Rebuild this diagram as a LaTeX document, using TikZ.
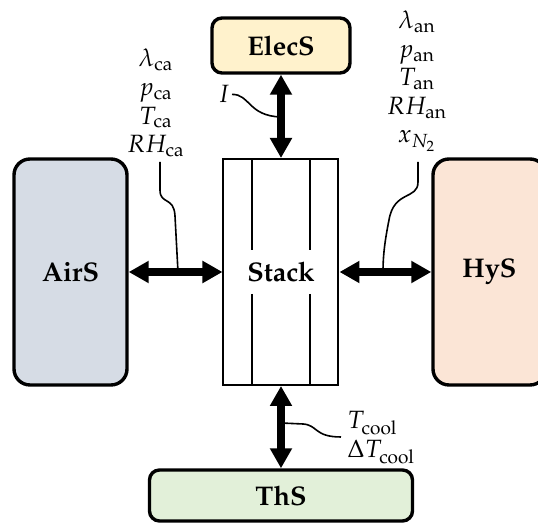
\documentclass[tikz,border=0pt]{standalone}
\usepackage[T1]{fontenc}
\usepackage{mathpazo}
\usetikzlibrary{arrows.meta}
\definecolor{airc}{HTML}{D6DCE5}
\definecolor{hyc}{HTML}{FBE5D6}
\definecolor{elecc}{HTML}{FFF2CC}
\definecolor{thc}{HTML}{E2F0D9}
\begin{document}
\begin{tikzpicture}[x=0.5pt,y=-0.5pt,
  font=\fontsize{12.5}{15}\selectfont,
  sysbox/.style={draw, line width=1.7pt, inner sep=0pt, font=\fontsize{13.5}{16}\selectfont\bfseries},
  tallbox/.style={sysbox, rounded corners=8pt, minimum width=56.5pt, minimum height=113pt},
  widebox/.style={sysbox, rounded corners=5pt},
  stackbox/.style={draw, line width=1pt, inner sep=0pt, minimum width=57.5pt, minimum height=113pt, font=\fontsize{13.5}{16}\selectfont\bfseries},
  bigarrow/.style={line width=4pt, {Triangle[width=10.5pt,length=10pt]}-{Triangle[width=10.5pt,length=10pt]}},
  conn/.style={line width=0.8pt},
  lbl/.style={inner sep=1pt, anchor=base},
  lblw/.style={inner sep=0.5pt, anchor=base west}
]
\useasboundingbox (0,0) rectangle (538,523);
\clip (0,0) rectangle (538,523);

% boxes
\node[tallbox, fill=airc] (airs) at (70.5,272) {\textbf{AirS}};
\node[tallbox, fill=hyc] (hys) at (489.5,272) {\textbf{HyS}};
\node[stackbox] (stack) at (281,272) {\textbf{Stack}};
\node[widebox, fill=elecc, minimum width=69pt, minimum height=27.5pt] (elecs) at (281,45.5) {\textbf{ElecS}};
\node[widebox, fill=thc, minimum width=131.5pt, minimum height=25.5pt] (ths) at (281,495.5) {\textbf{ThS}};

% stack inner lines
\draw[line width=1pt] (252,159) -- (252,250) (252,294) -- (252,385);
\draw[line width=1pt] (310,159) -- (310,250) (310,294) -- (310,385);

% big arrows
\draw[bigarrow] (airs.east) -- (stack.west);
\draw[bigarrow] (stack.east) -- (hys.west);
\draw[bigarrow] (elecs.south) -- (stack.north);
\draw[bigarrow] (stack.south) -- (ths.north);

% cathode labels
\node[lbl] (ca1) at (156,67) {$\lambda_{\mathrm{ca}}$};
\node[lbl] (ca2) at (156,95.6) {$p_{\mathrm{ca}}$};
\node[lbl] (ca3) at (156,124.2) {$T_{\mathrm{ca}}$};
\node[lbl] (ca4) at (156,152.8) {$RH_{\mathrm{ca}}$};

% anode labels
\node[lbl] (an1) at (417,29) {$\lambda_{\mathrm{an}}$};
\node[lbl] (an2) at (417,57.5) {$p_{\mathrm{an}}$};
\node[lbl] (an3) at (417,86) {$T_{\mathrm{an}}$};
\node[lbl] (an4) at (417,114.5) {$RH_{\mathrm{an}}$};
\node[lbl] (an5) at (417,143) {$x_{N_2}$};

% current label
\node[lbl] (ilab) at (224,103) {$I$};

% coolant labels
\node[lblw] (co1) at (346,429) {$T_{\mathrm{cool}}$};
\node[lblw] (co2) at (346,458) {$\Delta T_{\mathrm{cool}}$};

% connector coordinates
\coordinate (cas) at (160,162);
\coordinate (caj) at (178,272);
\coordinate (ans) at (418,162);
\coordinate (anj) at (383,272);
\coordinate (ij) at (281,117);
\coordinate (cj) at (281,423);
\coordinate (ce) at (341,437);

% thin connectors
\draw[conn] (cas) -- (160,190) .. controls (160,205) and (174,196) .. (175,216) -- (caj);
\draw[conn] (ans) -- (418,182) .. controls (418,200) and (394,190) .. (389,220) .. controls (385,240) and (383,255) .. (anj);
\draw[conn] (ilab.east) .. controls (250,94) and (248,116) .. (ij);
\draw[conn] (cj) -- (303,424) .. controls (318,425) and (314,437) .. (ce);
\end{tikzpicture}
\end{document}
